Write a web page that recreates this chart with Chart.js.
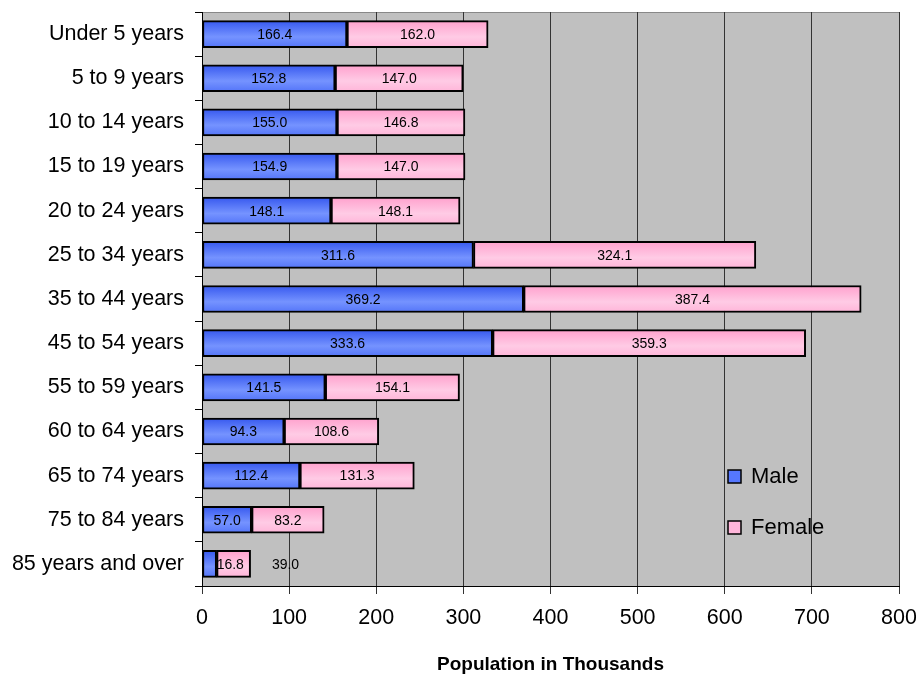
<!DOCTYPE html>
<html>
<head>
<meta charset="utf-8">
<script src="https://cdn.jsdelivr.net/npm/chart.js@4"></script>
<style>
  html, body { margin: 0; padding: 0; background: #fff; }
  #wrap { width: 916px; height: 677px; }
</style>
</head>
<body>
<div id="wrap"><canvas id="popChart"></canvas></div>
<script>
const ageGroups = ['Under 5 years', '5 to 9 years', '10 to 14 years', '15 to 19 years',
  '20 to 24 years', '25 to 34 years', '35 to 44 years', '45 to 54 years',
  '55 to 59 years', '60 to 64 years', '65 to 74 years', '75 to 84 years', '85 years and over'];
const male = [166.4, 152.8, 155.0, 154.9, 148.1, 311.6, 369.2, 333.6, 141.5, 94.3, 112.4, 57.0, 16.8];
const female = [162.0, 147.0, 146.8, 147.0, 148.1, 324.1, 387.4, 359.3, 154.1, 108.6, 131.3, 83.2, 39.0];

const FONT = "'Liberation Sans', Arial, sans-serif";

// vertical gradient for each bar, like the shaded Excel bars
function shade(dark, light, mid) {
  return function(ctx) {
    const chart = ctx.chart;
    const ys = chart.scales && chart.scales.y;
    if (!ys || ctx.dataIndex == null || !chart.chartArea) return light;
    const yc = ys.getPixelForValue(ctx.dataIndex);
    const g = chart.ctx.createLinearGradient(0, yc - 14, 0, yc + 14);
    g.addColorStop(0, dark);
    g.addColorStop(0.6, light);
    g.addColorStop(1, mid);
    return g;
  };
}

// grey plot area + right border
const plotBg = {
  id: 'plotBg',
  beforeDraw(chart) {
    const { ctx, chartArea: a } = chart;
    ctx.save();
    ctx.fillStyle = '#c0c0c0';
    ctx.fillRect(a.left, a.top, a.right - a.left, a.bottom - a.top);
    ctx.strokeStyle = '#888';
    ctx.lineWidth = 1;
    ctx.beginPath();
    ctx.moveTo(a.right + 0.5, a.top);
    ctx.lineTo(a.right + 0.5, a.bottom);
    ctx.moveTo(a.left, a.top + 0.5);
    ctx.lineTo(a.right, a.top + 0.5);
    ctx.stroke();
    ctx.restore();
  }
};

// value labels centred in each segment; pushed right when they do not fit
const segLabels = {
  id: 'segLabels',
  afterDatasetsDraw(chart) {
    const ctx = chart.ctx;
    ctx.save();
    ctx.font = '14px ' + FONT;
    ctx.fillStyle = '#000';
    ctx.textBaseline = 'middle';
    ctx.textAlign = 'left';
    const prevRight = {};
    chart.data.datasets.forEach((ds, di) => {
      chart.getDatasetMeta(di).data.forEach((bar, i) => {
        const txt = ds.data[i].toFixed(1);
        const w = ctx.measureText(txt).width;
        const l = Math.min(bar.x, bar.base), r = Math.max(bar.x, bar.base);
        let x = (l + r) / 2 - w / 2;
        const crowded = prevRight[i] != null && x < prevRight[i] + 4;
        if (w + 6 > r - l || crowded) {
          x = Math.max(r, prevRight[i] != null ? prevRight[i] + 28 : r);
        }
        prevRight[i] = x + w;
        ctx.fillText(txt, x, bar.y + 1);
      });
    });
    ctx.restore();
  }
};

// legend inside the plot area, lower right
const innerLegend = {
  id: 'innerLegend',
  afterDraw(chart) {
    const { ctx, chartArea: a } = chart;
    const flat = ['#5577ff', '#ffb6da'];
    ctx.save();
    ctx.font = '22px ' + FONT;
    ctx.textBaseline = 'middle';
    chart.data.datasets.forEach((ds, i) => {
      const x = a.right - 171;
      const y = a.bottom - 109 + i * 51;
      ctx.fillStyle = flat[i];
      ctx.fillRect(x, y - 7, 13, 13);
      ctx.strokeStyle = '#000';
      ctx.lineWidth = 1.5;
      ctx.strokeRect(x, y - 7, 13, 13);
      ctx.fillStyle = '#000';
      ctx.fillText(ds.label, x + 23, y);
    });
    ctx.restore();
  }
};

new Chart(document.getElementById('popChart'), {
  type: 'bar',
  data: {
    labels: ageGroups,
    datasets: [
      {
        label: 'Male',
        data: male,
        backgroundColor: shade('#3456ee', '#7593ff', '#5273f8'),
        borderColor: '#000',
        borderWidth: 2,
        borderSkipped: false,
        barThickness: 27
      },
      {
        label: 'Female',
        data: female,
        backgroundColor: shade('#ff9fcc', '#ffcbe5', '#ffb4d8'),
        borderColor: '#000',
        borderWidth: 2,
        borderSkipped: false,
        barThickness: 27
      }
    ]
  },
  options: {
    indexAxis: 'y',
    responsive: true,
    maintainAspectRatio: false,
    animation: false,
    layout: { padding: { top: 12, right: 17, left: 0, bottom: 0 } },
    plugins: {
      legend: { display: false },
      tooltip: { enabled: false }
    },
    scales: {
      x: {
        stacked: true,
        min: 0,
        max: 800,
        afterFit(scale) {
          scale.height = 91;
          scale.paddingLeft = 0;
          scale.paddingRight = 0;
        },
        ticks: {
          stepSize: 100,
          color: '#000',
          font: { family: FONT, size: 21.5 },
          padding: 11
        },
        grid: {
          color: '#333',
          lineWidth: 1,
          tickLength: 8,
          drawOnChartArea: true
        },
        border: { color: '#000', width: 1 },
        title: {
          display: true,
          text: 'Population in Thousands',
          color: '#000',
          font: { family: FONT, size: 19, weight: 'bold' },
          padding: { top: 0, bottom: 1 }
        }
      },
      y: {
        stacked: true,
        afterFit(scale) {
          scale.width = 202;
          scale.paddingTop = 0;
          scale.paddingBottom = 0;
        },
        ticks: {
          color: '#000',
          font: { family: FONT, size: 21.5 },
          padding: 11
        },
        grid: {
          offset: true,
          drawOnChartArea: false,
          color: '#000',
          tickLength: 7
        },
        border: { color: '#000', width: 1 }
      }
    }
  },
  plugins: [plotBg, segLabels, innerLegend]
});
</script>
</body>
</html>
